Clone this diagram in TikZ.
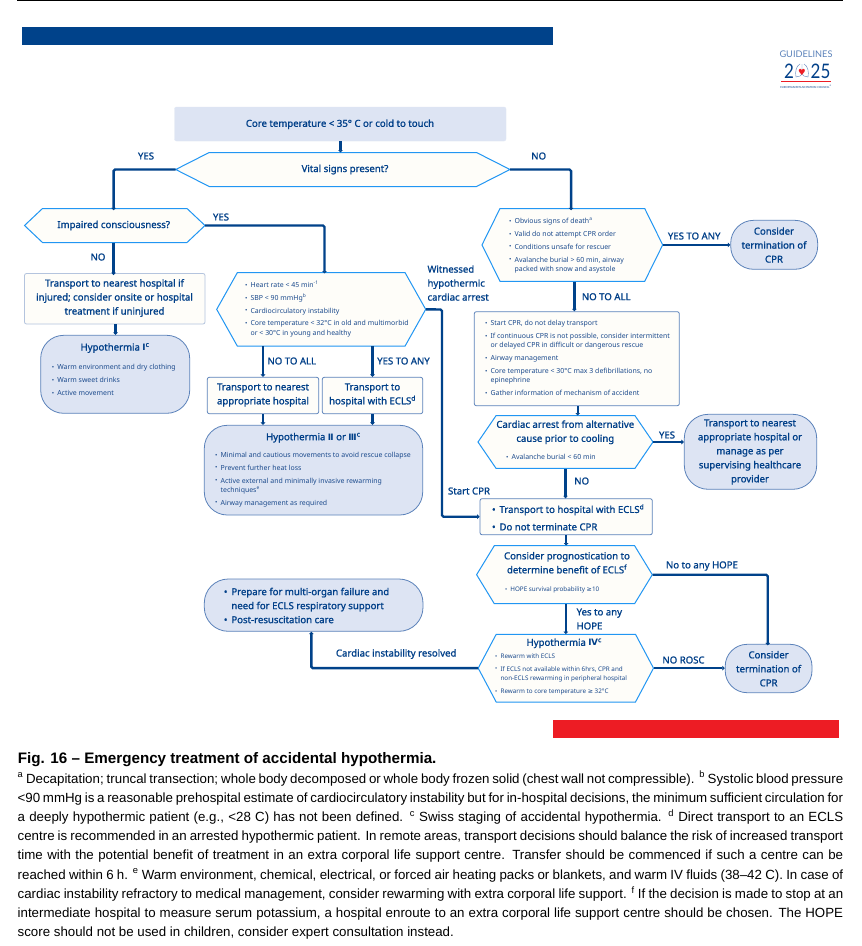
\documentclass[tikz,border=0pt]{standalone}
\usepackage{fontspec}
\setmainfont{Noto Sans}
\newfontfamily\headfont{Noto Sans}[FakeBold=1.2]
\newfontfamily\symfont{DejaVu Sans}
\newfontfamily\capfont{Liberation Sans}
\newfontfamily\logofont{Lato}
\usetikzlibrary{arrows.meta}
\definecolor{barblue}{HTML}{00428A}
\definecolor{ink}{HTML}{003F88}
\definecolor{listink}{HTML}{1B4A8C}
\definecolor{paleblue}{HTML}{DDE4F3}
\definecolor{cream}{HTML}{FEFDF9}
\definecolor{hexline}{HTML}{2196F3}
\definecolor{boxline}{HTML}{5B82BA}
\definecolor{softline}{HTML}{B4C4DE}
\definecolor{barred}{HTML}{ED1C24}
\tikzset{
  flow/.style={draw=barblue,line width=2.4pt,rounded corners=1.5pt,-{Stealth[length=2.5pt,width=4.6pt,inset=0pt]}},
  hex/.style={draw=hexline,fill=cream,line width=1pt},
  head/.style={font=\headfont\fontsize{9.6}{14}\selectfont,text=ink,align=center,inner sep=0pt},
  tag/.style={head},
  items/.style={font=\fontsize{6.95}{9.4}\selectfont,text=listink,align=left,inner sep=0pt,anchor=west},
  smallitems/.style={items,font=\fontsize{6.3}{9.4}\selectfont},
  bolditems/.style={head,align=left,anchor=west},
  cardbox/.style={draw=boxline,fill=cream,line width=0.8pt,rounded corners=2pt,inner sep=0pt},
  softbox/.style={cardbox,draw=softline},
  pill/.style={draw=boxline,fill=paleblue,line width=0.8pt,inner sep=0pt},
}
% left, top, right, bottom
\newcommand{\panel}[6][]{\node[#1,rounded corners=#6,minimum width={(#4)*1pt-(#2)*1pt},minimum height={(#5)*1pt-(#3)*1pt}] at ({((#2)+(#4))/2},{((#3)+(#5))/2})}
% name, left, top, right, bottom, inset
\newcommand{\hexnode}[6]{
  \draw[hex] ({#2+#6},#3) -- ({#4-#6},#3) -- (#4,{(#3+#5)/2}) -- ({#4-#6},#5) -- ({#2+#6},#5) -- (#2,{(#3+#5)/2}) -- cycle;
  \node[inner sep=0pt,minimum width={(#4-#2)*1pt},minimum height={(#5-#3)*1pt}] (#1) at ({(#2+#4)/2},{(#3+#5)/2}) {};
}
\newcommand{\li}{\makebox[5.4pt][l]{\raisebox{0.3pt}{\scalebox{0.9}{•}}}}
\newcommand{\lc}{\hspace*{5.4pt}}
\newcommand{\rom}[1]{{\symfont\bfseries\fontsize{8.8}{14}\selectfont #1}}
\newcommand{\geqsign}{{\symfont ≥}}
\begin{document}
\begin{tikzpicture}[x=1pt,y=-1pt]
\useasboundingbox (0,0) rectangle (862,946);
\fill[white] (0,0) rectangle (862,946);
\fill[black] (17,0) rectangle (843,1);
\fill[barblue] (22,27) rectangle (553,45);
\fill[barred] (553.3,720) rectangle (838.5,738);

% logo
\node[inner sep=0pt,text=boxline,font=\logofont\fontsize{9.2}{9}\selectfont] (guidelines) at (806,54) {GUIDELINES};
\node[inner sep=0pt,text=ink,font=\logofont\fontsize{20}{19}\selectfont] (twofive) at (820.5,71) {\scalebox{0.85}[1]{25}};
\node[inner sep=0pt,text=ink,font=\logofont\fontsize{20}{19}\selectfont] (two) at (789,71) {\scalebox{0.85}[1]{2}};
\draw[boxline,line width=0.4pt] (800,64) .. controls (796,66) and (795,72) .. (796,77) .. controls (799,77) and (802,76) .. (802,72) -- (802,64) -- (802,72) .. controls (802,76) and (805,77) .. (808,77) .. controls (809,72) and (808,66) .. (804,64);
\node[inner sep=0pt,text=barred,font=\symfont\fontsize{8.5}{8}\selectfont] (heart) at (802,72) {♥};
\fill[barred] (781,80.6) rectangle (831,81.4);
\node[inner sep=0pt,text=ink,font=\fontsize{2.8}{3}\selectfont] (council) at (806,87) {EUROPEAN RESUSCITATION COUNCIL\textsuperscript{©}};

% left branch
\panel[draw=paleblue!90!white,fill=paleblue,inner sep=0pt]{174.5}{107}{506}{141}{2pt} (core) {};
\node[head] (coretxt) at (340,124.3) {Core temperature < 35° C or cold to touch};
\hexnode{vital}{175.7}{152.5}{510}{186.5}{33.5}
\node[head] (vitaltxt) at (345,169.5) {Vital signs present?};
\hexnode{impaired}{24.5}{208.5}{205}{242.5}{18}
\node[head] (impairedtxt) at (113.7,225.5) {Impaired consciousness?};
\panel[softbox]{24.5}{273.5}{205}{324}{2pt} (nearest) {};
\node[head] (nearesttxt) at (114.5,298) {Transport to nearest hospital if\\injured; consider onsite or hospital\\treatment if uninjured};
\panel[pill]{40.7}{335.3}{189.7}{413.3}{23pt} (hypoone) {};
\node[head] (hypoonehd) at (115,348) {Hypothermia \rom{Ⅰ}\textsuperscript{c}};
\node[items] (hypooneli) at (51.7,380) {\li Warm environment and dry clothing\\[3.4pt]\li Warm sweet drinks\\[3.4pt]\li Active movement};

% middle branch
\hexnode{vitals}{216.7}{272.7}{425.7}{346}{20.6}
\node[items] (vitalsli) at (245,309) {\li Heart rate < 45 min\textsuperscript{-1}\\[3.4pt]\li SBP < 90 mmHg\textsuperscript{b}\\[3.4pt]\li Cardiocirculatory instability\\[3.4pt]\li Core temperature < 32°C in old and multimorbid\\\lc or < 30°C in young and healthy};
\panel[cardbox]{207.3}{377.3}{318.7}{413.7}{2pt} (approp) {};
\node[head] (approptxt) at (263,395) {Transport to nearest\\appropriate hospital};
\panel[cardbox]{322.3}{377.3}{422.7}{413.7}{2pt} (ecls) {};
\node[head] (eclstxt) at (372.5,395) {Transport to\\hospital with ECLS\textsuperscript{d}};
\panel[pill]{204.3}{425.3}{422.7}{515}{23pt} (hypotwo) {};
\node[head] (hypotwohd) at (313.3,437.7) {Hypothermia \rom{Ⅱ} or \rom{Ⅲ}\textsuperscript{c}};
\node[items] (hypotwoli) at (215,479.5) {\li Minimal and cautious movements to avoid rescue collapse\\[3.4pt]\li Prevent further heat loss\\[3.4pt]\li Active external and minimally invasive rewarming\\\lc techniques\textsuperscript{e}\\[3.4pt]\li Airway management as required};

% right branch
\hexnode{signs}{482}{208.5}{662.7}{281.3}{18}
\node[items] (signsli) at (509,245.5) {\li Obvious signs of death\textsuperscript{a}\\[3.4pt]\li Valid do not attempt CPR order\\[3.4pt]\li Conditions unsafe for rescuer\\[3.4pt]\li Avalanche burial > 60 min, airway\\\lc packed with snow and asystole};
\panel[pill]{730.7}{220.3}{817.7}{269.3}{23pt} (termone) {};
\node[head] (termonetxt) at (774,245) {Consider\\termination of\\CPR};
\panel[cardbox]{474.3}{311.7}{679.3}{405.7}{2pt} (cpr) {};
\node[items] (cprli) at (485,358) {\li Start CPR, do not delay transport\\[3.4pt]\li If continuous CPR is not possible,  consider intermittent\\\lc or delayed CPR in difficult or dangerous rescue\\[3.4pt]\li Airway management\\[3.4pt]\li Core temperature < 30°C max 3 defibrillations, no\\\lc epinephrine\\[3.4pt]\li Gather information of mechanism of  accident};
\hexnode{alt}{478}{415.7}{653}{468.3}{18}
\node[head] (alttxt) at (565.3,432.3) {Cardiac arrest from alternative\\cause prior to cooling};
\node[items] (altli) at (506,456.7) {\li Avalanche burial < 60 min};
\panel[pill]{684.3}{414.3}{816.7}{489.3}{24pt} (supervise) {};
\node[head] (supervisetxt) at (750,452) {Transport to nearest\\appropriate hospital or\\manage as per\\supervising healthcare\\provider};
\panel[cardbox]{480}{498.7}{652.3}{534.7}{2pt} (hospital) {};
\node[bolditems] (hospitalli) at (491.8,517.3) {\makebox[7.5pt][l]{•}Transport to hospital with ECLS\textsuperscript{d}\\[3.4pt]\makebox[7.5pt][l]{•}Do not terminate CPR};
\hexnode{prog}{476.6}{545.7}{652.3}{603.7}{17.7}
\node[head] (progtxt) at (567,562.7) {Consider prognostication to\\determine benefit of ECLS\textsuperscript{f}};
\node[smallitems] (progli) at (504.8,590) {\li HOPE survival probability \geqsign 10};
\hexnode{hypofour}{478.2}{634.3}{653.5}{702}{18}
\node[head] (hypofourhd) at (564.2,643.3) {Hypothermia \rom{Ⅳ}\textsuperscript{c}};
\node[smallitems] (hypofourli) at (495,674.3) {\li Rewarm with ECLS\\[3.4pt]\li If ECLS not available within 6hrs, CPR and\\\lc non-ECLS rewarming in peripheral hospital\\[3.4pt]\li Rewarm to core temperature \geqsign{} 32°C};
\panel[pill]{725.2}{644.3}{812}{692.7}{22pt} (termtwo) {};
\node[head] (termtwotxt) at (768.6,668.7) {Consider\\termination of\\CPR};
\panel[pill]{204.3}{579}{423}{631.3}{24pt} (prepare) {};
\node[bolditems] (prepareli) at (223.7,605.5) {\makebox[7.5pt][l]{•}Prepare for multi-organ failure and\\\hspace*{7.5pt}need for ECLS respiratory support\\\makebox[7.5pt][l]{•}Post-resuscitation care};

% connectors
\coordinate (coredrop) at (340.5,141);
\draw[flow] (coredrop) -- (340.5,152.5);
\draw[flow] (vital.west) -| ([xshift=-1.2pt,yshift=-2pt]impaired.north);
\draw[flow] (impaired.east) -| ([xshift=3.3pt,yshift=-1pt]vitals.north);
\draw[flow] ([xshift=-1.2pt]impaired.south) -- ([xshift=-1.2pt,yshift=-2pt]nearest.north);
\draw[flow] ([xshift=0.8pt]nearest.south) -- ([xshift=0.8pt]nearest.south |- hypoone.north);
\draw[flow] (vital.east) -| ([xshift=-1.3pt,yshift=-2pt]signs.north);
\draw[flow] (vitals.south -| approp.north) -- (approp.north);
\draw[flow] (vitals.south -| ecls.north) -- (ecls.north);
\draw[flow] (approp.south) -- (approp.south |- hypotwo.north);
\draw[flow] (ecls.south) -- (ecls.south |- hypotwo.north);
\draw[flow] (vitals.east) -- (442,309.5) |- (hospital.west);
\draw[flow] (signs.east) -- (signs.east -| termone.west);
\draw[flow] ([xshift=2pt]signs.south) -- ([xshift=2pt]signs.south |- cpr.north);
\draw[flow] ([xshift=0.9pt]cpr.south) -- ([xshift=0.9pt]cpr.south |- alt.north);
\draw[flow] (alt.east) -- (alt.east -| supervise.west);
\draw[flow] (alt.south) -- (alt.south |- hospital.north);
\draw[flow] (hospital.south) -- (hospital.south |- prog.north);
\draw[flow] (prog.east) -| ([yshift=-1.5pt,xshift=-0.9pt]termtwo.north);
\draw[flow] ([xshift=1.4pt]prog.south) -- ([xshift=1.4pt]prog.south |- hypofour.north);
\draw[flow] (hypofour.east) -- (hypofour.east -| termtwo.west);
\draw[flow] (hypofour.west) -| ([xshift=-2.3pt]prepare.south);

% branch labels
\node[tag] (vitalyes) at (146,156) {YES};
\node[tag] (vitalno) at (538.7,156) {NO};
\node[tag] (impairedyes) at (221,217) {YES};
\node[tag] (impairedno) at (98,257) {NO};
\node[head,align=left,anchor=west] (witnessed) at (427.3,283) {Witnessed\\hypothermic\\cardiac arrest};
\node[tag,anchor=west] (midnone) at (267.3,361) {NO TO ALL};
\node[tag,anchor=west] (midany) at (377,361) {YES TO ANY};
\node[tag,anchor=west] (rightany) at (667.7,236) {YES TO ANY};
\node[tag,anchor=west] (rightnone) at (581.7,296.7) {NO TO ALL};
\node[tag] (altyes) at (667,435) {YES};
\node[tag] (altno) at (581.7,481) {NO};
\node[tag] (startcpr) at (469,491) {Start CPR};
\node[tag,anchor=west] (nohope) at (665.8,566) {No to any HOPE};
\node[tag,align=left,anchor=west] (yeshope) at (576.4,619) {Yes to any\\HOPE};
\node[tag] (norosc) at (683.5,660) {NO ROSC};
\node[tag,anchor=west] (resolved) at (335.8,654) {Cardiac instability resolved};

% caption
\node[inner sep=0pt,anchor=west,font=\capfont\fontsize{15.2}{16}\selectfont\bfseries] (figtitle) at (17.6,760) {Fig. 16 – Emergency treatment of accidental hypothermia.};
\node[inner sep=0pt,anchor=north west,text width=825.5pt,align=justify,font=\capfont\fontsize{13.3}{19.2}\selectfont] (footnotes) at (17.5,771) {\textsuperscript{a} Decapitation; truncal transection; whole body decomposed or whole body frozen solid (chest wall not compressible). \textsuperscript{b} Systolic blood pressure\linebreak <90 mmHg is a reasonable prehospital estimate of cardiocirculatory instability but for in-hospital decisions, the minimum sufficient circulation for\linebreak a deeply hypothermic patient (e.g., <28 C) has not been defined. \textsuperscript{c} Swiss staging of accidental hypothermia. \textsuperscript{d} Direct transport to an ECLS\linebreak centre is recommended in an arrested hypothermic patient. In remote areas, transport decisions should balance the risk of increased transport\linebreak time with the potential benefit of treatment in an extra corporal life support centre. Transfer should be commenced if such a centre can be\linebreak reached within 6 h. \textsuperscript{e} Warm environment, chemical, electrical, or forced air heating packs or blankets, and warm IV fluids (38–42 C). In case of\linebreak cardiac instability refractory to medical management, consider rewarming with extra corporal life support. \textsuperscript{f} If the decision is made to stop at an\linebreak intermediate hospital to measure serum potassium, a hospital enroute to an extra corporal life support centre should be chosen. The HOPE\linebreak score should not be used in children, consider expert consultation instead.};
\end{tikzpicture}
\end{document}
